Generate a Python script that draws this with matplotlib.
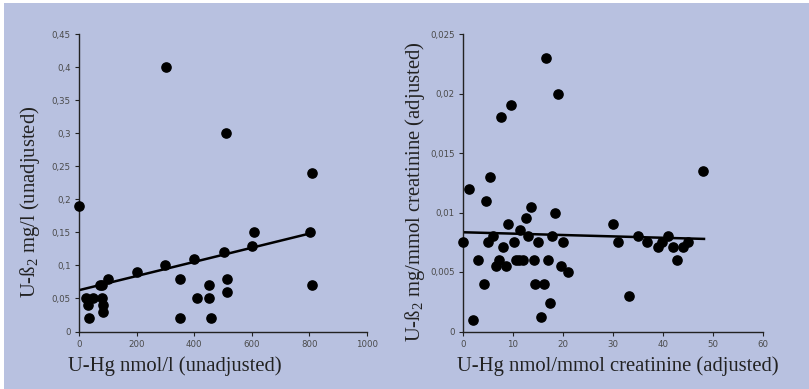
import matplotlib
matplotlib.use("Agg")
import matplotlib.pyplot as plt
import numpy as np
from matplotlib.patches import Rectangle
from matplotlib.ticker import FuncFormatter

plt.rcParams["mathtext.fontset"] = "custom"
plt.rcParams["mathtext.rm"] = "Liberation Serif"
plt.rcParams["mathtext.it"] = "Liberation Serif:italic"

BG = "#b8c1e0"

# Left panel: unadjusted U-Hg (nmol/l) vs U-beta2 (mg/l)
hg_unadj = [0, 25, 30, 35, 49, 74, 79, 80, 83, 83, 102, 200, 297, 302, 352, 352,
            398, 410, 450, 450, 458, 502, 512, 513, 513, 602, 606, 801, 808, 809]
b2_unadj = [0.19, 0.05, 0.04, 0.02, 0.05, 0.07, 0.07, 0.05, 0.04, 0.03, 0.08, 0.09,
            0.10, 0.40, 0.08, 0.02, 0.11, 0.05, 0.07, 0.05, 0.02, 0.12, 0.30, 0.08,
            0.06, 0.13, 0.15, 0.15, 0.24, 0.07]
# trend line (intercept, slope)
trend_unadj = (0.0625, 0.000107)
trend_unadj_x = [0, 800]

# Right panel: creatinine-adjusted values
hg_adj = [0, 1.1, 1.9, 2.9, 4.1, 4.6, 4.9, 5.4, 5.9, 6.5, 7.1, 7.6, 7.9, 8.5, 8.9,
          9.5, 10.1, 10.6, 11.2, 11.4, 12.0, 12.5, 13.0, 13.6, 14.1, 14.3, 14.9,
          15.5, 16.1, 16.5, 17.0, 17.4, 17.8, 18.4, 19.0, 19.5, 20.0, 20.9, 30.0,
          30.9, 33.1, 35.0, 36.8, 39.0, 39.7, 40.9, 42.0, 42.8, 43.9, 44.9, 47.9]
b2_adj = [0.0075, 0.012, 0.001, 0.006, 0.004, 0.011, 0.0075, 0.013, 0.008, 0.0055,
          0.006, 0.018, 0.0071, 0.0055, 0.009, 0.019, 0.0075, 0.006, 0.006, 0.0085,
          0.006, 0.0095, 0.008, 0.0105, 0.006, 0.004, 0.0075, 0.0012, 0.004, 0.023,
          0.006, 0.0024, 0.008, 0.010, 0.020, 0.0055, 0.0075, 0.005, 0.009, 0.0075,
          0.003, 0.008, 0.0075, 0.0071, 0.0075, 0.008, 0.0071, 0.006, 0.0071,
          0.0075, 0.0135]
trend_adj = (0.00834, -0.0000116)
trend_adj_x = [0, 48.2]


def comma(v, _pos):
    return f"{v:.3f}".rstrip("0").rstrip(".").replace(".", ",")


def style_axes(ax):
    ax.set_facecolor(BG)
    for side in ("top", "right"):
        ax.spines[side].set_visible(False)
    for side in ("left", "bottom"):
        ax.spines[side].set_color("#222222")
        ax.spines[side].set_linewidth(1.0)
    ax.tick_params(direction="out", length=3, width=0.8, color="#222222",
                   labelsize=6.2, labelcolor="#4a4a4a", pad=3)
    ax.yaxis.set_major_formatter(FuncFormatter(comma))


fig = plt.figure(figsize=(8.09, 3.89), dpi=100, facecolor="white")
fig.patches.append(Rectangle((4 / 809, 0), 1, 1 - 3 / 389, transform=fig.transFigure,
                             facecolor=BG, edgecolor="none", zorder=-1))

label_font = dict(family="Liberation Serif", size=14.9, color="#222222")

ax1 = fig.add_axes([79 / 809, 1 - 331.5 / 389, 288 / 809, 297.5 / 389])
style_axes(ax1)
ax1.scatter(hg_unadj, b2_unadj, s=44, color="black", zorder=3, clip_on=False)
x1 = np.array(trend_unadj_x)
ax1.plot(x1, trend_unadj[0] + trend_unadj[1] * x1, color="black", lw=1.8)
ax1.set_xlim(0, 1000)
ax1.set_ylim(0, 0.45)
ax1.set_xticks(np.arange(0, 1001, 200))
ax1.set_yticks(np.arange(0, 0.451, 0.05))
ax1.set_xlabel("U-Hg nmol/l (unadjusted)", labelpad=5, **label_font)
ax1.set_ylabel("U-ß$_2$ mg/l (unadjusted)", labelpad=7, **label_font)
ax1.xaxis.label.set_x(0.333)
ax1.yaxis.label.set_y(0.435)

ax2 = fig.add_axes([463 / 809, 1 - 331.5 / 389, 300 / 809, 297.5 / 389])
style_axes(ax2)
ax2.scatter(hg_adj, b2_adj, s=44, color="black", zorder=3, clip_on=False)
x2 = np.array(trend_adj_x)
ax2.plot(x2, trend_adj[0] + trend_adj[1] * x2, color="black", lw=1.8)
ax2.set_xlim(0, 60)
ax2.set_ylim(0, 0.025)
ax2.set_xticks(np.arange(0, 61, 10))
ax2.set_yticks(np.arange(0, 0.0251, 0.005))
ax2.set_xlabel("U-Hg nmol/mmol creatinine (adjusted)", labelpad=5, **label_font)
ax2.set_ylabel("U-ß$_2$ mg/mmol creatinine (adjusted)", labelpad=2, **label_font)
ax2.xaxis.label.set_x(0.517)
ax2.yaxis.label.set_y(0.469)

fig.savefig("out.png", dpi=100, facecolor=fig.get_facecolor())
